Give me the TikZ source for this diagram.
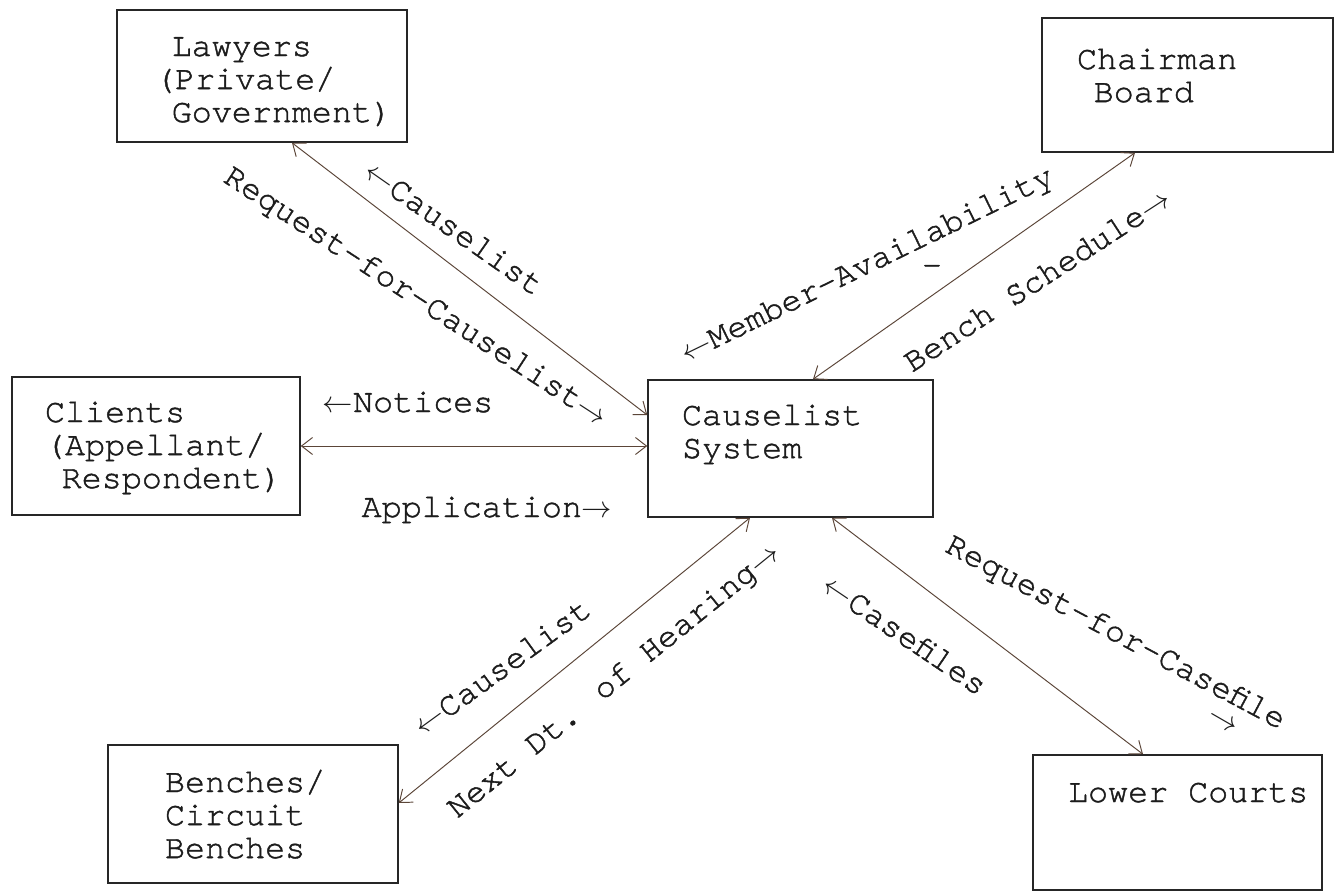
\documentclass[tikz,border=0pt]{standalone}
\usepackage{fontspec}
\newfontfamily\typefont[HyphenChar=None,FakeBold=1.3]{TeX Gyre Cursor}
\usetikzlibrary{arrows.meta}
\definecolor{boxink}{HTML}{262626}
\definecolor{lineink}{HTML}{5B4538}
\definecolor{textink}{HTML}{1C1C1C}
\newcommand{\ind}{\hspace*{0.5em}}
\newcommand{\la}{$\leftarrow$}
\newcommand{\ra}{$\rightarrow$}

\begin{document}
\begin{tikzpicture}[x=0.02cm, y=-0.02cm,
    entity/.style={draw=boxink, line width=0.9pt, align=left, inner ysep=0pt, text=textink, font=\typefont\fontsize{19}{18.8}\selectfont},
    flow/.style={text=textink, inner sep=0pt, font=\typefont\fontsize{19}{18.8}\selectfont},
    arr/.style={{Straight Barb[length=2.2mm,width=3.4mm]}-{Straight Barb[length=2.2mm,width=3.4mm]}, draw=lineink, line width=0.55pt},
]
\useasboundingbox (0,0) rectangle (1339,892);

\node[entity, inner xsep=0.76cm, text width=4.28cm, text height=0.92cm, text depth=1.72cm] (lawyers) at (262,76) {\ind Lawyers\\(Private/\\\ind Government)};
\node[entity, inner xsep=0.7cm, text width=4.42cm, text height=1.02cm, text depth=1.66cm] (chairman) at (1187.5,85) {Chairman\\\ind Board};
\node[entity, inner xsep=0.66cm, text width=4.44cm, text height=0.9cm, text depth=1.86cm] (clients) at (156,446) {Clients\\(Appellant/\\\ind Respondent)};
\node[entity, inner xsep=0.68cm, text width=4.34cm, text height=0.9cm, text depth=1.84cm] (causelist) at (790.5,448.5) {Causelist\\System};
\node[entity, inner xsep=1.14cm, text width=3.52cm, text height=0.94cm, text depth=1.82cm] (benches) at (253,814) {Benches/\\Circuit\\Benches};
\node[entity, inner xsep=0.7cm, text width=4.38cm, text height=0.94cm, text depth=1.76cm] (lowercourts) at (1177.5,822.5) {Lower\hspace*{0.6em}Courts};

\draw[arr] ([xshift=0.6cm]lawyers.south) -- ([yshift=0.67cm]causelist.west);
\draw[arr] (clients.east) -- (clients.east -| causelist.west);
\draw[arr] ([xshift=0.45cm]causelist.north) -- ([xshift=-1.05cm]chairman.south);
\draw[arr] ([xshift=-0.81cm]causelist.south) -- ([yshift=0.22cm]benches.east);
\draw[arr] ([xshift=0.83cm]causelist.south) -- ([xshift=-0.69cm]lowercourts.north);

\node[flow, rotate=-35] (lblCauseA) at (454,228) {\la Causelist};
\node[flow, rotate=-33] (lblReqCause) at (415,298) {Request-for-Causelist\ra};
\node[flow, anchor=base] (lblNotices) at (408,412) {\la Notices};
\node[flow, anchor=base] (lblApp) at (487,517) {Application\ra};
\node[flow, rotate=26] (lblMember) at (868,266) {\la Member-Availability};
\node[flow] (lblDash) at (932,270) {-};
\node[flow, rotate=33] (lblBench) at (1037,280) {Bench Schedule\ra};
\node[flow, rotate=36] (lblCauseB) at (502,667) {\la Causelist};
\node[flow, rotate=39] (lblNext) at (615,682) {Next Dt. of Hearing\ra};
\node[flow, rotate=-34] (lblCasefiles) at (905,635) {\la Casefiles};
\node[flow, rotate=-28] (lblReqFile) at (1115,634) {Request-for-Casefile};
\node[flow, rotate=-30] (lblFileArrow) at (1222,722) {\ra};
\end{tikzpicture}
\end{document}
